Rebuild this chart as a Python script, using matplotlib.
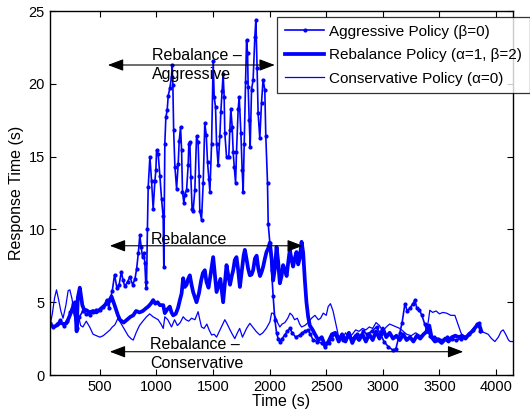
import matplotlib
matplotlib.use("Agg")
import matplotlib.pyplot as plt

plt.rcParams['font.family'] = ['Liberation Sans', 'DejaVu Sans']

# ---------------- data ----------------
aggr_t = [60, 90, 120, 150, 180, 210, 240, 264, 285, 300, 320, 350, 380, 412, 440, 470, 500, 530, 559,
          580, 590, 610, 630, 650, 670, 690, 705, 720, 745, 765, 790, 810, 825, 840, 853, 865, 877, 890,
          897, 905, 912, 920, 927, 942, 957, 971, 986, 995, 1001, 1015, 1030, 1045, 1059, 1065, 1074,
          1083, 1095, 1104, 1118, 1133, 1139, 1145, 1152, 1163, 1178, 1192, 1201, 1213, 1222, 1230, 1242,
          1251, 1266, 1280, 1286, 1295, 1304, 1315, 1324, 1339, 1354, 1368, 1377, 1383, 1398, 1413, 1427,
          1440, 1451, 1463, 1472, 1487, 1501, 1510, 1522, 1531, 1545, 1560, 1569, 1580, 1589, 1598, 1604,
          1619, 1639, 1648, 1657, 1669, 1678, 1687, 1699, 1707, 1722, 1731, 1746, 1757, 1766, 1775, 1787,
          1796, 1805, 1810, 1819, 1828, 1840, 1854, 1869, 1878, 1889, 1898, 1913, 1928, 1942, 1957, 1966,
          1981, 1987, 2002, 2017, 2031, 2046, 2061, 2075, 2090, 2110, 2134, 2155, 2178, 2200, 2230, 2266,
          2290, 2310, 2340, 2360, 2384, 2420, 2460, 2488, 2520, 2550, 2576, 2610, 2650, 2690, 2730, 2770,
          2800, 2826, 2860, 2900, 2944, 2980, 3010, 3047, 3090, 3115, 3150, 3170, 3195, 3215, 3240, 3265,
          3283, 3300, 3320, 3345, 3370, 3390, 3420, 3450, 3490, 3530, 3570, 3610, 3650, 3690, 3720, 3760,
          3800, 3830, 3845, 3860]
aggr_v = [3.6, 3.3, 3.5, 3.8, 3.4, 3.7, 4.3, 4.9, 4.2, 3.2, 4.0, 4.4, 4.2, 4.1, 4.3, 4.5, 4.45, 4.7, 5.15,
          4.6, 5.15, 5.8, 6.9, 6.0, 6.2, 7.1, 6.5, 6.1, 6.4, 6.75, 6.2, 6.6, 7.3, 8.4, 9.6, 8.8, 8.1, 8.4,
          7.7, 6.4, 6.0, 10.0, 12.9, 15.0, 13.3, 11.4, 13.3, 14.1, 15.45, 15.2, 13.7, 12.1, 10.9, 7.4, 15.9,
          17.7, 18.2, 19.2, 19.7, 20.5, 21.3, 19.9, 16.8, 14.3, 12.8, 14.5, 16.1, 17.05, 15.45, 12.6, 11.8,
          12.4, 12.7, 14.4, 15.9, 16.0, 13.6, 11.4, 11.3, 12.7, 16.4, 16.0, 13.7, 11.3, 10.65, 13.2, 17.3,
          16.5, 14.65, 13.5, 12.6, 15.9, 21.6, 19.1, 18.4, 15.9, 14.4, 16.4, 18.1, 19.5, 20.7, 19.1, 16.6,
          15.0, 15.0, 16.8, 18.3, 17.05, 15.3, 14.3, 13.2, 15.3, 18.3, 19.1, 16.6, 14.1, 12.6, 15.9, 20.1,
          23.0, 22.1, 19.8, 17.5, 15.7, 19.6, 20.3, 23.2, 24.4, 21.1, 18.0, 16.25, 18.7, 20.3, 19.6, 16.4,
          13.2, 10.4, 9.05, 7.2, 5.4, 3.8, 2.9, 2.5, 2.3, 2.5, 2.75, 3.0, 3.2, 2.9, 2.6, 2.75,
          2.9, 3.0, 3.1, 2.8, 2.4, 2.3, 2.2, 1.95, 2.2, 2.5, 2.85, 2.6, 2.4, 2.7, 2.5, 2.8,
          2.7, 3.0, 2.8, 3.0, 3.3, 2.8, 2.3, 1.95, 1.7, 1.8, 2.9, 3.6, 4.9, 4.4, 4.6, 4.9,
          5.15, 4.6, 4.5, 4.1, 3.5, 3.0, 2.7, 2.6, 2.5, 2.4, 2.6, 2.5, 2.4, 2.5, 2.6, 2.8,
          3.1, 3.5, 3.55, 3.0]

reb_t = [60, 90, 120, 150, 180, 205, 230, 260, 280, 295, 305, 323, 345, 360, 382, 410, 440, 470, 500, 530,
         560, 590, 603, 630, 660, 677, 710, 740, 770, 795, 820, 850, 880, 910, 927, 950, 971, 990, 1010,
         1030, 1060, 1074, 1095, 1118, 1133, 1148, 1170, 1190, 1207, 1222, 1236, 1251, 1266, 1280, 1295,
         1310, 1324, 1354, 1375, 1395, 1410, 1427, 1442, 1460, 1480, 1501, 1515, 1531, 1550, 1565, 1589,
         1605, 1619, 1635, 1650, 1665, 1678, 1692, 1707, 1722, 1737, 1755, 1770, 1781, 1795, 1810, 1825,
         1840, 1854, 1870, 1885, 1900, 1915, 1930, 1943, 1958, 1972, 1987, 2002, 2017, 2031, 2046, 2061,
         2075, 2090, 2105, 2119, 2135, 2150, 2165, 2178, 2192, 2207, 2222, 2237, 2252, 2265, 2282, 2296,
         2311, 2325, 2340, 2355, 2380, 2400, 2430, 2460, 2490, 2520, 2550, 2580, 2610, 2640, 2670, 2700,
         2730, 2760, 2790, 2820, 2850, 2880, 2910, 2940, 2970, 3000, 3030, 3060, 3090, 3120, 3150, 3180,
         3210, 3240, 3270, 3300, 3330, 3360, 3390, 3410, 3430, 3460, 3490, 3520, 3550, 3580, 3610, 3640,
         3670, 3700, 3730, 3760, 3790, 3820, 3850, 3870]
reb_v = [3.5, 3.3, 3.4, 3.6, 3.5, 3.55, 4.0, 4.6, 5.0, 3.0, 5.3, 6.0, 4.8, 4.5, 4.45, 4.3, 4.4, 4.3, 4.5, 4.7,
         4.9, 5.2, 5.4, 4.8, 4.1, 3.8, 3.6, 3.8, 4.0, 4.1, 4.4, 4.3, 4.4, 4.6, 4.7, 4.9, 5.15, 4.9, 5.0,
         4.8, 4.8, 4.25, 4.5, 4.7, 4.3, 4.1, 4.2, 4.6, 5.15, 5.6, 6.65, 6.05, 6.2, 6.6, 6.85,
         6.2, 5.7, 5.0, 5.6, 6.5, 7.0, 7.2, 6.4, 6.0, 7.0, 8.1, 7.0, 5.7, 6.2, 6.6, 5.0,
         6.4, 7.55, 6.8, 6.2, 6.8, 7.2, 7.9, 8.1, 7.2, 6.05, 7.2, 8.2, 8.6, 8.0, 7.3, 6.85,
         6.9, 7.2, 8.0, 8.2, 7.3, 6.8, 7.1, 7.45, 8.0, 8.45, 8.7, 9.1, 8.0, 6.5, 7.3, 8.8,
         7.8, 6.3, 6.8, 7.55, 7.2, 6.8, 7.8, 8.6, 8.0, 7.45, 8.0, 8.45, 7.6, 8.0, 9.15, 8.4,
         6.5, 5.0, 4.0, 3.4, 3.1, 2.8, 2.4, 2.6, 2.0, 2.3, 2.8, 2.9, 2.3, 2.8, 2.3, 2.9,
         2.2, 2.7, 2.4, 2.8, 2.3, 2.8, 2.4, 3.0, 2.5, 3.2, 2.6, 2.9, 2.5, 2.7, 2.4, 2.8,
         2.4, 2.6, 2.3, 2.7, 2.5, 2.8, 3.0, 3.4, 2.6, 2.3, 2.4, 2.2, 2.5, 2.3, 2.6, 2.7,
         2.6, 2.7, 2.5, 2.8, 3.0, 3.3, 3.5, 3.0]

cons_t = [60, 80, 100, 117, 135, 155, 175, 200, 220, 235, 255, 270, 290, 310, 330, 350, 380, 410, 440, 470,
          500, 530, 560, 590, 610, 633, 660, 690, 721, 750, 775, 795, 820, 850, 880, 912, 940, 970, 1015,
          1040, 1060, 1074, 1100, 1133, 1160, 1185, 1210, 1236, 1260, 1285, 1310, 1340, 1368, 1383, 1398,
          1420, 1445, 1465, 1487, 1510, 1531, 1555, 1580, 1604, 1625, 1650, 1670, 1692, 1715, 1735, 1760,
          1796, 1825, 1850, 1880, 1913, 1940, 1970, 2002, 2017, 2031, 2050, 2070, 2090, 2110, 2134, 2160,
          2180, 2200, 2220, 2245, 2265, 2282, 2310, 2340, 2370, 2400, 2430, 2450, 2473, 2500, 2517, 2537,
          2560, 2590, 2610, 2640, 2670, 2700, 2730, 2760, 2790, 2820, 2850, 2880, 2910, 2940, 2970, 3000,
          3030, 3060, 3090, 3120, 3150, 3180, 3210, 3250, 3290, 3330, 3370, 3400, 3415, 3440, 3470, 3500,
          3530, 3563, 3600, 3636, 3665, 3690, 3710, 3740, 3770, 3800, 3830, 3850, 3870, 3900, 3930, 3960,
          3990, 4020, 4045, 4063, 4085, 4110, 4125, 4150]
cons_v = [3.4, 4.2, 5.3, 5.85, 5.2, 4.4, 3.9, 4.8, 5.8, 5.85, 5.2, 4.2, 3.6, 4.1, 3.4, 3.3, 3.7, 3.3, 2.8, 2.7,
          2.6, 2.7, 2.9, 3.1, 3.3, 3.45, 3.9, 3.5, 3.1, 2.7, 2.5, 2.4, 2.9, 3.4, 3.7, 4.0, 4.2, 4.0, 3.8,
          3.5, 3.2, 4.0, 3.8, 3.3, 3.8, 3.4, 3.6, 4.0, 3.8, 3.7, 3.9, 3.8, 4.35, 3.8, 3.3,
          3.2, 3.5, 3.1, 2.75, 2.8, 2.6, 3.0, 3.4, 3.8, 3.5, 3.1, 2.8, 2.5, 2.9, 3.2, 2.6,
          3.2, 3.55, 3.3, 3.0, 2.75, 2.9, 3.2, 3.65, 4.25, 4.25, 4.0, 3.6, 3.3, 3.5, 3.6, 3.9,
          4.25, 4.1, 3.8, 3.9, 3.5, 3.3, 3.4, 3.6, 3.9, 4.1, 3.8, 3.9, 4.25, 4.1, 4.7, 4.9,
          4.4, 3.3, 2.6, 2.4, 2.9, 2.6, 2.8, 3.1, 3.0, 3.2, 3.1, 3.3, 3.2, 3.6, 3.4, 3.0,
          3.3, 3.5, 3.4, 3.3, 3.2, 3.0, 2.8, 2.7, 2.9, 2.7, 2.9, 3.6, 4.45, 4.3, 4.4, 4.2,
          4.3, 4.25, 4.1, 4.1, 3.45, 2.9, 2.6, 2.7, 2.9, 3.2, 3.5, 3.3, 3.0, 2.9, 2.8, 2.5,
          2.3, 2.6, 3.0, 3.1, 2.8, 2.4, 2.3, 2.3]

labels = ['Aggressive Policy (β=0)', 'Rebalance Policy (α=1, β=2)', 'Conservative Policy (α=0)']
x_ticks = [500, 1000, 1500, 2000, 2500, 3000, 3500, 4000]
y_ticks = [0, 5, 10, 15, 20, 25]

# annotation arrows: (label, y, x_left, x_right, text_x, text_y)
arrow_specs = [
    ('Rebalance –\nAggressive', 21.3, 571, 2045, 958, 21.3),
    ('Rebalance', 8.88, 588, 2293, 950, 9.3),
    ('Rebalance –\nConservative', 1.6, 588, 3710, 941, 1.45),
]

# ---------------- plot ----------------
fig = plt.figure(figsize=(5.30, 4.13), dpi=100)
ax = fig.add_axes([0.094, 0.092, 0.874, 0.881])

blue = (0, 0, 1)
ax.plot(aggr_t, aggr_v, '.-', color=blue, lw=1.2, ms=4, label=labels[0])
ax.plot(reb_t, reb_v, '-', color=blue, lw=2.7, label=labels[1])
ax.plot(cons_t, cons_v, '-', color=blue, lw=0.9, label=labels[2])

ax.set_xlim(58, 4150)
ax.set_ylim(0, 25)
ax.set_xticks(x_ticks)
ax.set_yticks(y_ticks)
ax.tick_params(direction='in', top=True, right=True, labelsize=10.5, length=4, width=0.8)
for s in ax.spines.values():
    s.set_linewidth(1.0)

ax.set_xlabel('Time (s)', fontsize=11.5, labelpad=0)
ax.set_ylabel('Response Time (s)', fontsize=11.5, labelpad=3)

for txt, y, xl, xr, tx, ty in arrow_specs:
    ax.annotate('', xy=(xr, y), xytext=(xl, y),
                arrowprops=dict(arrowstyle='<|-|>,head_length=0.95,head_width=0.36',
                                mutation_scale=10, color='black', lw=0.8,
                                shrinkA=0, shrinkB=0))
    ax.text(tx, ty, txt, fontsize=11.5, ha='left', va='center', linespacing=1.3)

leg = ax.legend(loc='upper right', bbox_to_anchor=(1.0, 0.959), bbox_transform=fig.transFigure,
                fontsize=11, frameon=True, fancybox=False, edgecolor='black',
                handlelength=2.6, handletextpad=0.33, labelspacing=0.62, borderpad=0.5,
                borderaxespad=0)
leg.get_frame().set_linewidth(0.9)

fig.savefig('out.png', dpi=100)
